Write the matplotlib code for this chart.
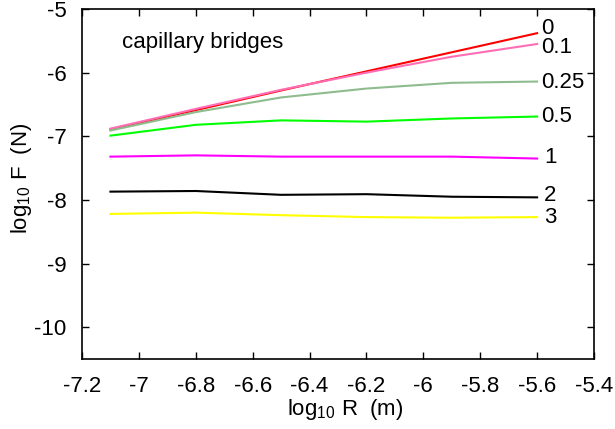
import matplotlib
matplotlib.use("Agg")
import matplotlib.pyplot as plt

plt.rcParams['font.family'] = ['Liberation Sans', 'DejaVu Sans']
plt.rcParams['mathtext.fontset'] = 'custom'
plt.rcParams['mathtext.rm'] = 'Liberation Sans'
plt.rcParams['mathtext.it'] = 'Liberation Sans'
plt.rcParams['mathtext.default'] = 'regular'

log_R = [-7.1, -6.8, -6.5, -6.2, -5.9, -5.6]
series_labels = ["0", "0.1", "0.25", "0.5", "1", "2", "3"]
f_0 = [-6.89, -6.59, -6.28, -5.98, -5.68, -5.38]
f_01 = [-6.88, -6.57, -6.27, -6.00, -5.75, -5.55]
f_025 = [-6.91, -6.62, -6.39, -6.25, -6.16, -6.14]
f_05 = [-6.99, -6.82, -6.75, -6.77, -6.72, -6.69]
f_1 = [-7.32, -7.30, -7.32, -7.32, -7.32, -7.35]
f_2 = [-7.87, -7.86, -7.92, -7.91, -7.95, -7.96]
f_3 = [-8.22, -8.20, -8.24, -8.27, -8.28, -8.27]
label_y = [-5.30, -5.61, -6.15, -6.69, -7.33, -7.93, -8.27]
label_x = [-5.585, -5.585, -5.585, -5.585, -5.575, -5.575, -5.575]
xticks = [-7.2, -7.0, -6.8, -6.6, -6.4, -6.2, -6.0, -5.8, -5.6, -5.4]
xticklabels = ["-7.2", "-7", "-6.8", "-6.6", "-6.4", "-6.2", "-6", "-5.8", "-5.6", "-5.4"]
yticks = [-5, -6, -7, -8, -9, -10]
yticklabels = ["-5", "-6", "-7", "-8", "-9", "-10"]

series = [f_0, f_01, f_025, f_05, f_1, f_2, f_3]
colors = ["#ff0000", "#ff6eb4", "#8fbc8f", "#00ff00", "#ff00ff", "#000000", "#ffff00"]

fig = plt.figure(figsize=(6.15, 4.29), dpi=100)
ax = fig.add_axes([82/615, 1 - 359/429, (594-82)/615, (359-9)/429])

for s, c in zip(series, colors):
    ax.plot(log_R, s, color=c, lw=1.5)

for lab, x, y in zip(series_labels, label_x, label_y):
    ax.text(x, y, lab, fontsize=16, va='center', ha='left')

ax.text(0.078, 0.905, "capillary bridges", transform=ax.transAxes, fontsize=16,
        va='center', ha='left')

ax.set_xlim(-7.2, -5.4)
ax.set_ylim(-10.5, -5)
ax.set_xticks(xticks)
ax.set_xticklabels(xticklabels)
ax.set_yticks(yticks)
ax.set_yticklabels(yticklabels)
ax.tick_params(direction='in', top=True, right=True, labelsize=16, length=5, width=1)
ax.tick_params(axis='x', pad=12)
ax.tick_params(axis='y', pad=11)
for sp in ax.spines.values():
    sp.set_linewidth(1.2)

ax.set_xlabel("log$_{10}$ R  (m)", fontsize=16, labelpad=0)
ax.xaxis.label.set_x(0.5 + 7/512)
ax.set_ylabel("log$_{10}$ F  (N)", fontsize=16, labelpad=0)
ax.yaxis.label.set_y(0.5 + 6/350)

fig.savefig("out.png", dpi=100)
